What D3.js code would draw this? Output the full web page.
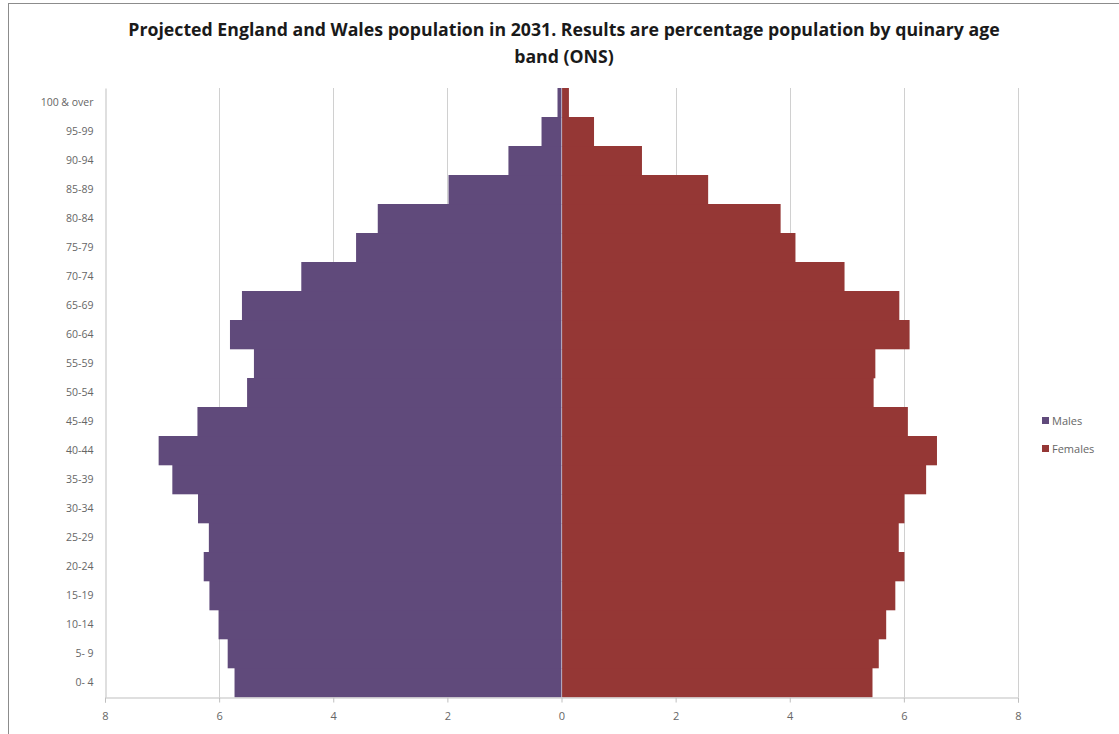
<!DOCTYPE html>
<html>
<head>
<meta charset="utf-8">
<script src="https://cdn.jsdelivr.net/npm/d3@7"></script>
<style>
  body { margin: 0; background: #fff; }
  text { font-family: "Open Sans", "Liberation Sans", sans-serif; }
</style>
</head>
<body>
<script>
// age bands listed bottom to top, as in the chart
const ageBands = ["0- 4", "5- 9", "10-14", "15-19", "20-24", "25-29", "30-34", "35-39",
    "40-44", "45-49", "50-54", "55-59", "60-64", "65-69", "70-74", "75-79",
    "80-84", "85-89", "90-94", "95-99", "100 & over"];

// percentage of population
const males = [5.73, 5.85, 6.01, 6.17, 6.27, 6.18, 6.37, 6.82, 7.06, 6.38, 5.51,
    5.39, 5.81, 5.60, 4.56, 3.60, 3.22, 1.98, 0.93, 0.35, 0.07];
const females = [5.45, 5.56, 5.69, 5.85, 6.01, 5.91, 6.01, 6.39, 6.58, 6.07, 5.47,
    5.50, 6.10, 5.92, 4.96, 4.10, 3.84, 2.57, 1.41, 0.57, 0.13];

const xTicks = [-8, -6, -4, -2, 0, 2, 4, 6, 8];
const seriesNames = ["Males", "Females"];
const seriesColors = ["#604a7b", "#953735"];

const titleLines = ["Projected England and Wales population in 2031. Results are percentage population by quinary age",
    "band (ONS)"];

window.onload = function () {
    const w = 1119, h = 734;
    const left = 105, right = 1018, top = 88, bottom = 697;

    const svg = d3.select("body").append("svg")
        .attr("width", w)
        .attr("height", h);

    // chart area border
    svg.append("rect")
        .attr("x", 8.5).attr("y", 3.5)
        .attr("width", w + 20).attr("height", h + 20)
        .attr("fill", "#fff")
        .attr("stroke", "#8c8c8c");

    const x = d3.scaleLinear().domain([-8, 8]).range([left, right]);
    const y = d3.scaleBand().domain(ageBands).range([bottom, top]).padding(0);

    // gridlines
    svg.append("g")
        .selectAll("line")
        .data(xTicks.filter(d => d !== -8))
        .enter().append("line")
        .attr("x1", d => Math.round(x(d)) + 0.5)
        .attr("x2", d => Math.round(x(d)) + 0.5)
        .attr("y1", top)
        .attr("y2", bottom)
        .attr("stroke", "#d0d0d0");

    const color = d3.scaleOrdinal().domain(seriesNames).range(seriesColors);

    // male bars go left
    svg.append("g")
        .selectAll("rect")
        .data(males)
        .enter().append("rect")
        .attr("x", d => x(-d))
        .attr("y", (d, i) => y(ageBands[i]))
        .attr("width", d => x(0) - x(-d))
        .attr("height", y.bandwidth() + 0.3)
        .attr("fill", color("Males"));

    // female bars go right
    svg.append("g")
        .selectAll("rect")
        .data(females)
        .enter().append("rect")
        .attr("x", x(0) + 0.6)
        .attr("y", (d, i) => y(ageBands[i]))
        .attr("width", d => x(d) - x(0) - 0.6)
        .attr("height", y.bandwidth() + 0.3)
        .attr("fill", color("Females"));

    // x axis
    const xAxis = svg.append("g")
        .attr("transform", `translate(0,${bottom + 0.5})`)
        .call(d3.axisBottom(x).tickValues(xTicks).tickSize(5).tickPadding(10)
            .tickFormat(d => Math.abs(d)));
    xAxis.select(".domain").attr("stroke", "#bfbfbf");
    xAxis.selectAll(".tick line").attr("stroke", "#bfbfbf");
    xAxis.selectAll("text").attr("fill", "#666").attr("font-size", 11);

    // y axis
    const yAxis = svg.append("g")
        .attr("transform", `translate(${left + 0.5},0)`)
        .call(d3.axisLeft(y).tickSize(0).tickPadding(12));
    yAxis.select(".domain").attr("stroke", "#bfbfbf");
    yAxis.selectAll("text").attr("fill", "#666").attr("font-size", 10.5);

    // title
    const title = svg.append("g")
        .attr("font-weight", "bold")
        .attr("fill", "#1a1a1a")
        .attr("text-anchor", "middle");
    title.selectAll("text")
        .data(titleLines)
        .enter().append("text")
        .attr("x", 564)
        .attr("y", (d, i) => 36 + i * 27)
        .attr("font-size", 15)
        .text(d => d);
    const first = title.select("text").node();
    const fs = 15 * 872 / first.getComputedTextLength();
    title.selectAll("text").attr("font-size", fs);

    // legend
    const legend = svg.append("g")
        .selectAll("g")
        .data(seriesNames)
        .enter().append("g")
        .attr("transform", (d, i) => `translate(1042,${421 + i * 28})`);
    legend.append("rect")
        .attr("x", 0).attr("y", -4)
        .attr("width", 7).attr("height", 7)
        .attr("fill", d => color(d));
    legend.append("text")
        .attr("x", 10)
        .attr("y", 4)
        .attr("font-size", 11)
        .attr("fill", "#666")
        .text(d => d);
}
</script>
</body>
</html>
